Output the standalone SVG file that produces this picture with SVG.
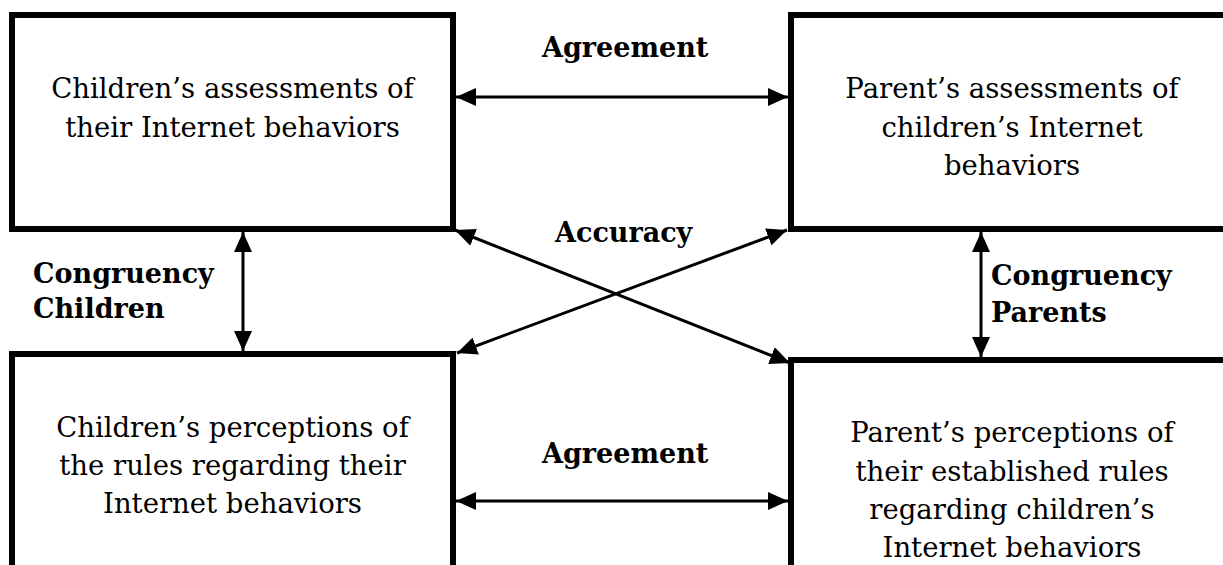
<svg xmlns="http://www.w3.org/2000/svg" width="1223" height="565" viewBox="0 0 1223 565">
<style>
.box{fill:#fff;stroke:#000;stroke-width:6}
.t{font-family:"DejaVu Serif","Liberation Serif",serif;font-size:27.5px;fill:#000;text-anchor:middle}
.b{font-family:"DejaVu Serif","Liberation Serif",serif;font-size:27px;font-weight:bold;fill:#000}
.c{stroke:#000;stroke-width:3;fill:none;marker-start:url(#ah);marker-end:url(#ah)}
</style>
<defs>
<marker id="ah" markerUnits="userSpaceOnUse" markerWidth="20" markerHeight="18" refX="20" refY="9" orient="auto-start-reverse" viewBox="0 0 20 18">
<path d="M0,0 L20,9 L0,18 z" fill="#000"/>
</marker>
</defs>
<rect width="1223" height="565" fill="#fff"/>
<g id="node-children-assessments">
<rect class="box" x="12" y="15" width="441" height="214"/>
<text class="t" x="232.5" y="98">Children’s assessments of</text>
<text class="t" x="232.5" y="137">their Internet behaviors</text>
</g>
<g id="node-parent-assessments">
<rect class="box" x="791" y="15" width="450" height="214"/>
<text class="t" x="1012" y="98">Parent’s assessments of</text>
<text class="t" x="1012" y="137">children’s Internet</text>
<text class="t" x="1012" y="175">behaviors</text>
</g>
<g id="node-children-perceptions">
<rect class="box" x="12" y="354" width="441" height="240"/>
<text class="t" x="232.5" y="437">Children’s perceptions of</text>
<text class="t" x="232.5" y="475">the rules regarding their</text>
<text class="t" x="232.5" y="513">Internet behaviors</text>
</g>
<g id="node-parent-perceptions">
<rect class="box" x="791" y="360" width="450" height="240"/>
<text class="t" x="1012" y="442">Parent’s perceptions of</text>
<text class="t" x="1012" y="481">their established rules</text>
<text class="t" x="1012" y="519">regarding children’s</text>
<text class="t" x="1012" y="557">Internet behaviors</text>
</g>
<g id="connectors">
<line class="c" x1="456" y1="97" x2="788" y2="97"/>
<line class="c" x1="456" y1="501" x2="788" y2="501"/>
<line class="c" x1="455" y1="230" x2="790" y2="363"/>
<line class="c" x1="787" y1="230" x2="457" y2="353"/>
<line class="c" x1="243" y1="232" x2="243" y2="351"/>
<line class="c" x1="981" y1="232" x2="981" y2="357"/>
</g>
<g id="labels">
<text class="b" x="542" y="57">Agreement</text>
<text class="b" x="542" y="463">Agreement</text>
<text class="b" x="555" y="242">Accuracy</text>
<text class="b" x="33" y="283">Congruency</text>
<text class="b" x="33" y="318">Children</text>
<text class="b" x="991" y="285">Congruency</text>
<text class="b" x="991" y="322">Parents</text>
</g>
</svg>
